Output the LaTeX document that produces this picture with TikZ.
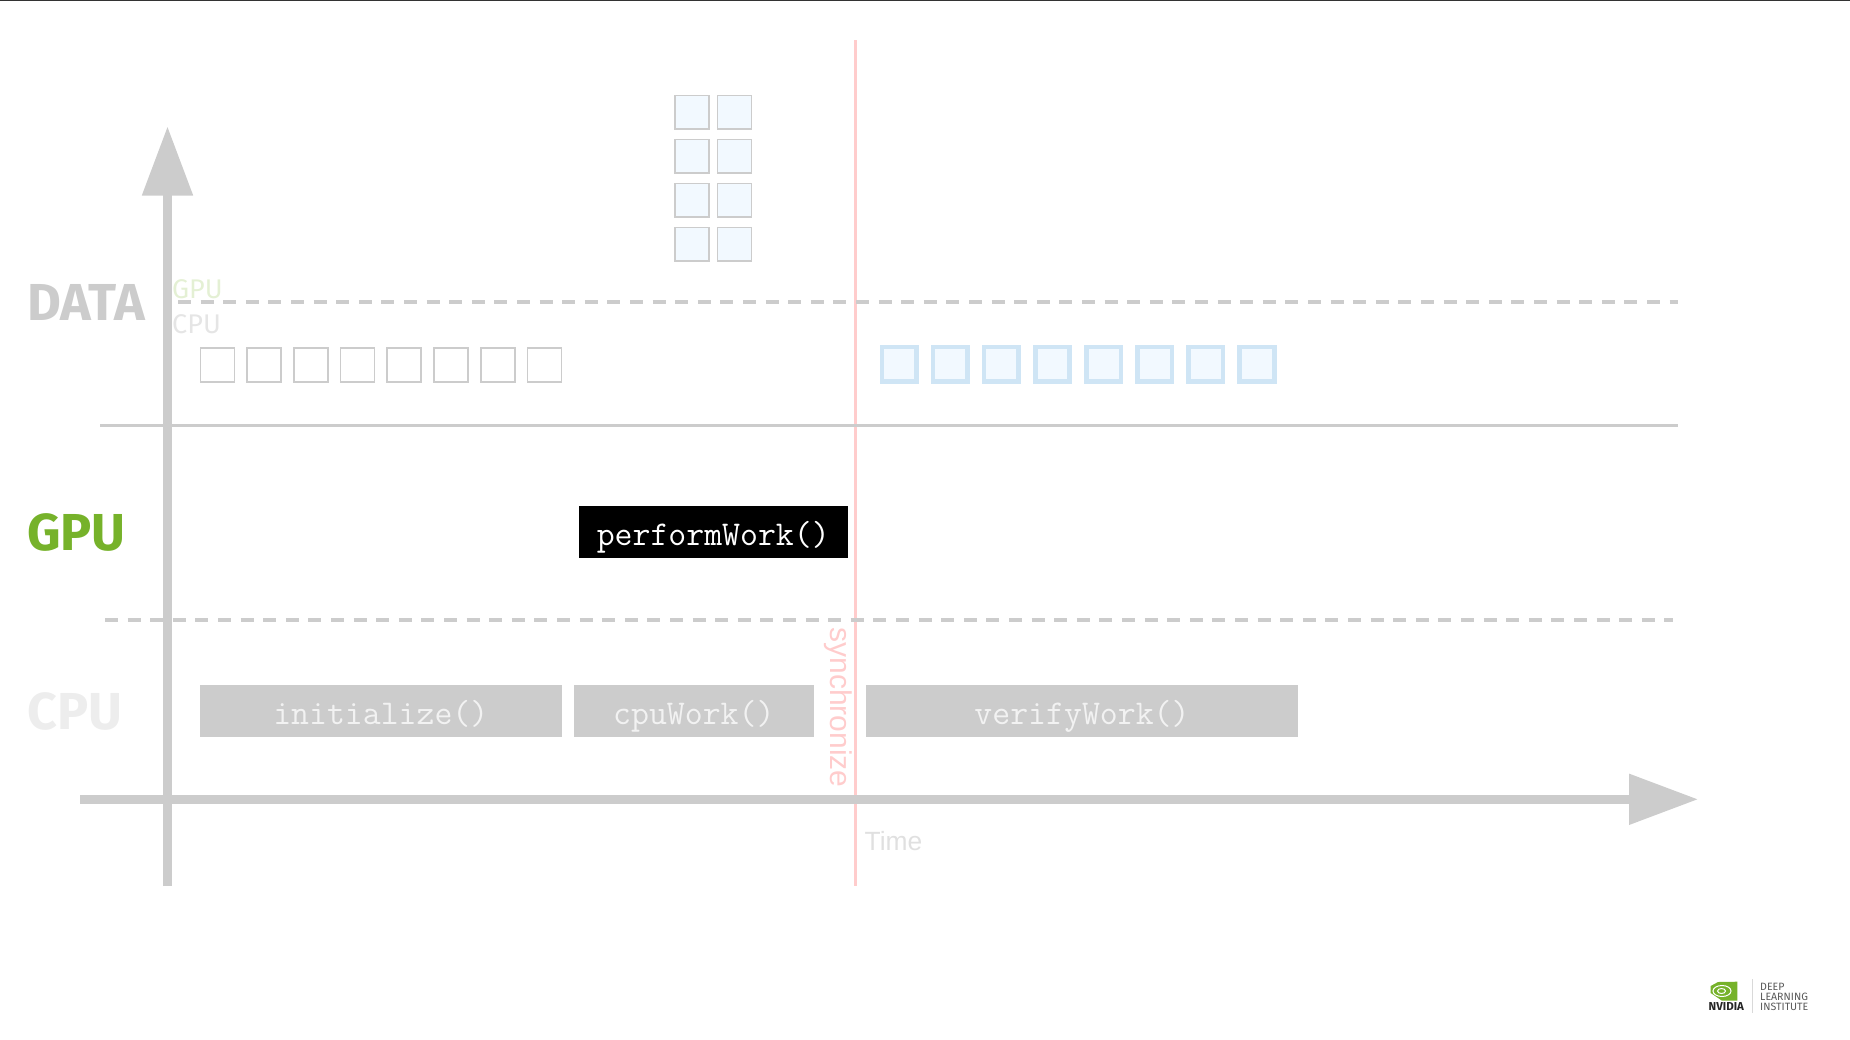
\documentclass[tikz,border=0pt]{standalone}
\usepackage{fontspec}
\setmainfont{Fira Sans}
\newfontfamily\plainfont{Liberation Sans}
\usetikzlibrary{matrix,arrows.meta}

\definecolor{axisgrey}{HTML}{CCCCCC}
\definecolor{syncpink}{HTML}{FFCCCC}
\definecolor{nvgreen}{HTML}{76B22A}
\definecolor{datablue}{HTML}{F2F9FF}
\definecolor{edgeblue}{HTML}{CFE5F5}

\tikzset{
  axisline/.style={draw=axisgrey, line width=8.5pt, -{Triangle[length=69pt,width=49pt]}},
  lane/.style={draw=axisgrey, line width=3.4pt},
  lanedash/.style={draw=axisgrey, line width=4pt, dash pattern=on 13pt off 9.6pt},
  worklabel/.style={font=\ttfamily\fontsize{34.8}{35}\selectfont, text height=26pt, text depth=0pt, inner sep=0pt, outer sep=0pt, anchor=north west},
  workbox/.style={worklabel, fill=axisgrey, text=white!95!black, minimum height=52pt},
  lanelabel/.style={font=\bfseries\fontsize{52}{53}\selectfont, inner sep=0pt, anchor=base west},
  memlabel/.style={font=\fontsize{27}{28}\selectfont, inner sep=0pt, anchor=base west},
  cpucell/.style={draw=axisgrey, line width=1.7pt, fill=white, minimum size=34pt, inner sep=0pt},
  gpucell/.style={draw=axisgrey, line width=1.7pt, fill=datablue, minimum size=33.8pt, inner sep=0pt},
  synccell/.style={draw=edgeblue, line width=4.7pt, fill=datablue, minimum size=34.6pt, inner sep=0pt},
  logotext/.style={font=\fontsize{10.6}{10.6}\selectfont, text=black!65, inner sep=0pt, anchor=base west}
}

\begin{document}
\begin{tikzpicture}[x=1pt,y=-1pt]
\useasboundingbox (0,0) rectangle (1850,1039);

\coordinate (topa) at (0,0.5);
\coordinate (topb) at (1850,0.5);
\draw[black!80, line width=1pt] (topa) -- (topb);

% time line
\coordinate (synctop) at (855.5,40);
\coordinate (syncend) at (855.5,886);
\draw[syncpink, line width=3pt] (synctop) -- (syncend);

% lanes
\coordinate (dataa) at (178,302.3);
\coordinate (datab) at (1678,302.3);
\coordinate (lanea) at (100,425.6);
\coordinate (laneb) at (1678,425.6);
\coordinate (cpua) at (105,620.4);
\coordinate (cpub) at (1673,620.4);
\draw[lanedash] (dataa) -- (datab);
\draw[lane] (lanea) -- (laneb);
\draw[lanedash] (cpua) -- (cpub);

% axes
\coordinate (valuefoot) at (167.5,886);
\coordinate (valuetip) at (167.5,126.5);
\coordinate (timefoot) at (80,799.3);
\coordinate (timetip) at (1698,799.3);
\draw[axisline] (valuefoot) -- (valuetip);
\draw[axisline] (timefoot) -- (timetip);

% labels on the left
\node[lanelabel, text=axisgrey] (datalabel) at (27,320) {DATA};
\node[lanelabel, text=nvgreen] (gpulabel) at (27,550) {GPU};
\node[lanelabel, text=black!7] (cpulabel) at (27,729) {CPU};
\node[memlabel, text=nvgreen!20] (gpumem) at (172,298.5) {GPU};
\node[memlabel, text=black!10] (cpumem) at (172,333) {CPU};

% data blocks
\matrix (cpudata) at (199.4,347) [matrix of nodes, nodes in empty cells, anchor=north west,
inner sep=0pt, column sep=11pt, nodes={cpucell}]
{ & & & & & & & \\};
\matrix (syncdata) at (879.3,344.3) [matrix of nodes, nodes in empty cells, anchor=north west,
inner sep=0pt, column sep=11.8pt, nodes={synccell}]
{ & & & & & & & \\};
\matrix (gpudata) at (674,94.3) [matrix of nodes, nodes in empty cells, anchor=north west,
inner sep=0pt, column sep=7pt, row sep=8.5pt, nodes={gpucell}]
{ & \\ & \\ & \\ & \\};

% work
\node[workbox, minimum width=361.6pt] (initialize) at (200,685) {initialize()};
\node[workbox, minimum width=239.7pt] (cpuwork) at (574,685) {cpuWork()};
\node[workbox, minimum width=432pt] (verifywork) at (866,685) {verifyWork()};
\node[worklabel, fill=black, text=white, minimum width=268.5pt, minimum height=52pt] (performwork) at (579,506.4) {performWork()};

\node[font=\plainfont\fontsize{30}{30}\selectfont, text=syncpink, rotate=-90, inner sep=0pt, anchor=base] (synclabel) at (830,707.5) {synchronize};
\node[font=\plainfont\fontsize{26.4}{27}\selectfont, text=black!12, inner sep=0pt, anchor=base west] (timelabel) at (864.5,850) {Time};

% logo
\fill[nvgreen] (1710.7,986) -- (1718,982) -- (1737.3,981.7) -- (1737.3,1000.7) -- (1722,1000.7) -- (1710.7,993) -- cycle;
\draw[white, line width=1pt] (1722,991) ellipse (9pt and 5.5pt);
\draw[white, line width=1pt] (1721.5,991) ellipse (4pt and 2.5pt);
\node[font=\bfseries\fontsize{11.5}{11.5}\selectfont, text=black!85, inner sep=0pt, anchor=base west] (nvidia) at (1708.5,1010) {NVIDIA};
\coordinate (logoa) at (1752.3,979);
\coordinate (logob) at (1752.3,1012.7);
\draw[black!15, line width=0.8pt] (logoa) -- (logob);
\node[logotext] (deep) at (1760,990) {DEEP};
\node[logotext] (learning) at (1760,1000) {LEARNING};
\node[logotext] (institute) at (1760,1010) {INSTITUTE};
\end{tikzpicture}
\end{document}
